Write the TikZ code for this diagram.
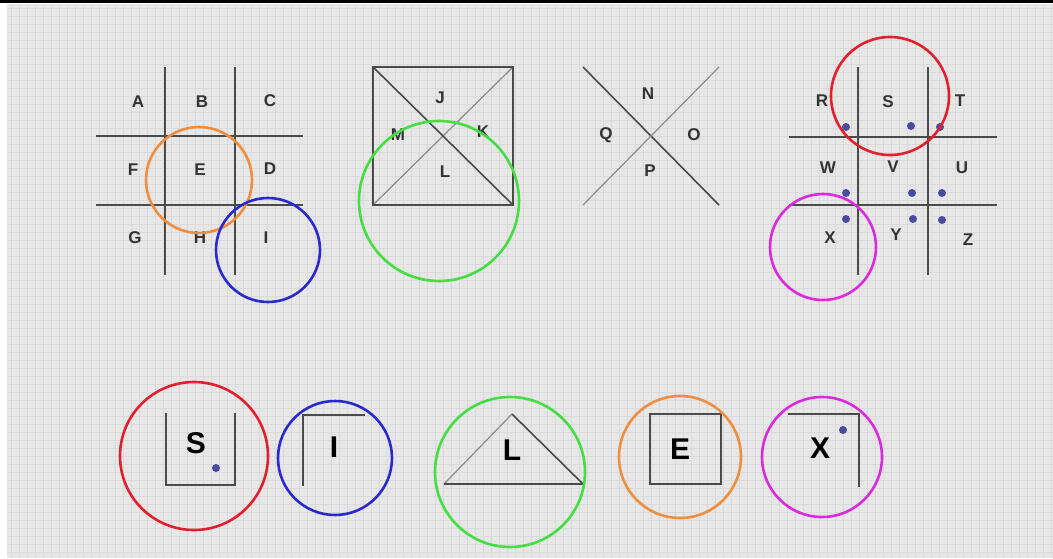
\documentclass[tikz,border=0pt]{standalone}
\usepackage{fontspec}
\setmainfont{Liberation Sans}
\definecolor{bg}{HTML}{E7E7E7}
\definecolor{gridc}{HTML}{DADADA}
\definecolor{linec}{HTML}{4A4A4A}
\definecolor{lightline}{HTML}{8A8A8A}
\definecolor{cOrange}{HTML}{EE8E3E}
\definecolor{cBlue}{HTML}{2A2ACC}
\definecolor{cGreen}{HTML}{44DD44}
\definecolor{cRed}{HTML}{E0202E}
\definecolor{cMag}{HTML}{D92BDD}
\definecolor{dotc}{HTML}{4A4A9E}
\definecolor{txt}{HTML}{333333}
\tikzset{
  lbl/.style={font=\fontsize{17}{17}\selectfont\bfseries, text=txt, inner sep=0pt},
  big/.style={font=\fontsize{30}{30}\selectfont\bfseries, text=black, inner sep=0pt},
  gl/.style={draw=linec, line width=1.6pt},
  gl2/.style={draw=lightline, line width=1.2pt},
  ring/.style={line width=2.6pt},
  pt/.style={fill=dotc},
  bgline/.style={draw=gridc, line width=0.5pt},
}
\begin{document}
\begin{tikzpicture}[x=1pt,y=-1pt]
\useasboundingbox (0,0) rectangle (1053,558);
\fill[white] (0,0) rectangle (1053,558);
\fill[bg] (7,4) rectangle (1053,558);
\foreach \gx in {11,19,...,1051} \draw[bgline] (\gx,4) -- (\gx,558);
\foreach \gy in {8,16,...,556} \draw[bgline] (7,\gy) -- (1053,\gy);
\fill[black] (0,0) rectangle (1053,2.5);
% ---- grid 1
\draw[gl] (165,67) -- (165,275);
\draw[gl] (235,67) -- (235,275);
\draw[gl] (96,136) -- (303,136);
\draw[gl] (96,205) -- (303,205);
\node[lbl] (A) at (138,102) {A};
\node[lbl] (B) at (202,102) {B};
\node[lbl] (C) at (270,101) {C};
\node[lbl] (F) at (133,170) {F};
\node[lbl] (E) at (200,170) {E};
\node[lbl] (D) at (270,169) {D};
\node[lbl] (G) at (135,238) {G};
\node[lbl] (H) at (200,238) {H};
\node[lbl] (I) at (266,238) {I};
\draw[ring, cOrange] (199,180) circle (53);
\draw[ring, cBlue] (268,250) circle (52);
% ---- square
\draw[gl2] (373,205) -- (513,67);
\draw[gl] (373,67) rectangle (513,205);
\draw[gl] (373,67) -- (513,205);
\node[lbl] (J) at (440,98) {J};
\node[lbl] (M) at (398,135) {M};
\node[lbl] (K) at (483,132) {K};
\node[lbl] (L) at (445,172) {L};
\draw[ring, cGreen] (439,201) circle (80);
% ---- X
\draw[gl] (583,67) -- (719,205);
\draw[gl2] (719,67) -- (583,205);
\node[lbl] (N) at (648,94) {N};
\node[lbl] (Q) at (606,135) {Q};
\node[lbl] (O) at (694,135) {O};
\node[lbl] (P) at (650,171) {P};
% ---- grid 2
\draw[gl] (858,67) -- (858,275);
\draw[gl] (928,67) -- (928,275);
\draw[gl] (789,137) -- (997,137);
\draw[gl] (789,205) -- (997,205);
\node[lbl] (R) at (822,101) {R};
\node[lbl] (S) at (888,102) {S};
\node[lbl] (T) at (960,101) {T};
\node[lbl] (W) at (828,168) {W};
\node[lbl] (V) at (893,167) {V};
\node[lbl] (U) at (962,168) {U};
\node[lbl] (X) at (830,238) {X};
\node[lbl] (Y) at (896,235) {Y};
\node[lbl] (Z) at (968,240) {Z};
\foreach \p in {(846,127),(911,126),(940,127),(846,193),(912,193),(942,193),(846,219),(913,219),(942,220)}
  \fill[pt] \p circle (4);
\draw[ring, cRed] (890,96) circle (59);
\draw[ring, cMag] (823,247) circle (53);
% ---- bottom row
\draw[gl] (166,413) -- (166,485) -- (235,485) -- (235,413);
\node[big] (bS) at (196,443) {S};
\fill[pt] (216,468) circle (4);
\draw[ring, cRed] (194,456) circle (74);
\draw[gl] (303,486) -- (303,415) -- (365,415);
\node[big] (bI) at (334,447) {I};
\draw[ring, cBlue] (335,458) circle (57);
\draw[gl2] (444,484) -- (512,414);
\draw[gl] (512,414) -- (583,484) -- (444,484);
\node[big] (bL) at (512,450) {L};
\draw[ring, cGreen] (510,472) circle (75);
\draw[gl] (650,414) rectangle (721,484);
\node[big] (bE) at (680,449) {E};
\draw[ring, cOrange] (680,457) circle (61);
\draw[gl] (788,414) -- (859,414) -- (859,487);
\fill[pt] (843,430) circle (4);
\node[big] (bX) at (820,448) {X};
\draw[ring, cMag] (822,457) circle (60);
\end{tikzpicture}
\end{document}
